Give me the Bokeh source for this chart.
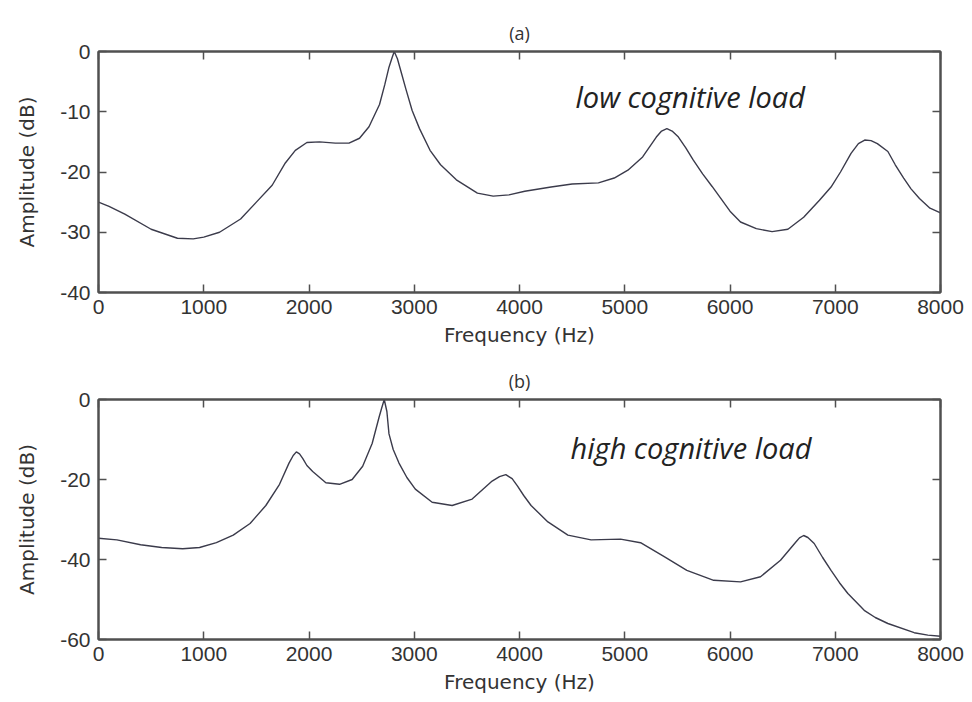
from bokeh.plotting import figure
from bokeh.models import Range1d, LinearAxis, FixedTicker, Label
from bokeh.layouts import column
from bokeh.embed import file_html
from bokeh.resources import INLINE

# ---- data ----
freq_a = [0, 100, 250, 500, 750, 900, 1000, 1150, 1350, 1500, 1650, 1775, 1870, 1980,
          2100, 2250, 2380, 2480, 2570, 2670, 2720, 2760, 2790, 2810, 2840, 2880, 2920,
          2980, 3050, 3150, 3250, 3400, 3600, 3750, 3900, 4050, 4300, 4500, 4750, 4900,
          5030, 5170, 5300, 5350, 5400, 5450, 5510, 5580, 5650, 5740, 5830, 6000, 6100,
          6250, 6400, 6550, 6700, 6850, 6960, 7050, 7150, 7220, 7280, 7340, 7400, 7500,
          7570, 7650, 7720, 7800, 7900, 8000]
amp_a = [-25, -25.7, -27, -29.5, -31, -31.1, -30.8, -30, -27.8, -25, -22.2, -18.5, -16.4, -15.1,
         -15.0, -15.2, -15.2, -14.4, -12.5, -8.8, -5.5, -2.6, -1.0, 0, -1.2, -3.7, -6.2,
         -9.8, -12.8, -16.4, -18.8, -21.3, -23.5, -24, -23.8, -23.2, -22.5, -22, -21.8, -21,
         -19.7, -17.5, -14.2, -13.2, -12.8, -13.2, -14.2, -16.0, -18, -20.3, -22.4, -26.5, -28.3,
         -29.4, -29.9, -29.5, -27.5, -24.7, -22.5, -20, -16.9, -15.3, -14.7, -14.8, -15.3, -16.6,
         -18.8, -21, -22.8, -24.4, -26, -26.8]

freq_b = [0, 175, 400, 600, 800, 960, 1120, 1280, 1440, 1590, 1720, 1810, 1850, 1880, 1910,
          1940, 1980, 2035, 2160, 2290, 2410, 2510, 2600, 2665, 2690, 2715, 2740, 2760, 2800,
          2855, 2930, 3010, 3170, 3360, 3550, 3740, 3810, 3870, 3930, 3980, 4040, 4110, 4270,
          4460, 4680, 4960, 5150, 5375, 5590, 5845, 6100, 6290, 6480, 6630, 6660, 6700, 6740,
          6800, 6880, 6960, 7040, 7120, 7275, 7380, 7500, 7750, 7880, 8000]
amp_b = [-34.7, -35.1, -36.3, -37, -37.3, -37, -35.8, -33.9, -31, -26.5, -21.2, -15.9, -14.0, -13.1, -13.6,
         -14.7, -16.5, -18, -20.8, -21.2, -20, -16.7, -11, -4.5, -2.2, 0, -3.0, -8.6, -12.5,
         -15.9, -19.5, -22.4, -25.7, -26.5, -24.9, -20.4, -19.3, -18.8, -19.8, -21.6, -24.0, -26.5, -30.6,
         -33.9, -35.1, -34.9, -35.8, -39.3, -42.7, -45.2, -45.6, -44.3, -40.2, -35.5, -34.6, -34, -34.5,
         -36, -39.5, -42.7, -45.8, -48.5, -52.7, -54.5, -56, -58.3, -58.9, -59.2]

x_ticks = [0, 1000, 2000, 3000, 4000, 5000, 6000, 7000, 8000]
y_ticks_a = [-40, -30, -20, -10, 0]
y_ticks_b = [-60, -40, -20, 0]
panel_titles = ["(a)", "(b)"]
notes = ["low cognitive load", "high cognitive load"]
x_label = "Frequency (Hz)"
y_label = "Amplitude (dB)"

FRAME = "#505050"
TEXT = "#333333"
LINE = "#3b3b4b"


def make_panel(freq, amp, y_min, y_ticks, height, b_top, b_bottom,
               title, note, note_x, note_y):
    p = figure(width=972, height=height, x_range=Range1d(0, 8000), y_range=Range1d(y_min, 0),
               output_backend="svg", toolbar_location=None,
               min_border_left=98, min_border_right=32,
               min_border_top=b_top, min_border_bottom=b_bottom,
               x_axis_label=x_label, y_axis_label=y_label, title=title)
    p.background_fill_color = "white"
    p.border_fill_color = "white"
    p.xgrid.visible = False
    p.ygrid.visible = False
    p.outline_line_color = FRAME
    p.outline_line_width = 2

    p.title.align = "center"
    p.title.text_font = "Open Sans"
    p.title.text_font_size = "18px"
    p.title.text_font_style = "normal"
    p.title.text_color = TEXT
    p.title.standoff = 14

    bottom = p.below[0]
    left = p.left[0]
    bottom.ticker = FixedTicker(ticks=x_ticks)
    left.ticker = FixedTicker(ticks=y_ticks)
    left.major_label_overrides = {t: str(t) for t in y_ticks}

    top = LinearAxis(ticker=FixedTicker(ticks=x_ticks),
                     major_label_overrides={t: "" for t in x_ticks})
    right = LinearAxis(ticker=FixedTicker(ticks=y_ticks),
                       major_label_overrides={t: "" for t in y_ticks})
    p.add_layout(top, "above")
    p.add_layout(right, "right")

    for ax in [bottom, left, top, right]:
        ax.axis_line_color = FRAME
        ax.axis_line_width = 2
        ax.major_tick_in = 8
        ax.major_tick_out = 0
        ax.major_tick_line_color = FRAME
        ax.major_tick_line_width = 1.5
        ax.minor_tick_line_color = None
        ax.major_label_text_font = "Liberation Sans"
        ax.major_label_text_font_size = "21px"
        ax.major_label_text_color = TEXT
    top.major_label_standoff = 0
    right.major_label_standoff = 0

    bottom.major_label_standoff = 7
    left.major_label_standoff = 8
    for ax in [bottom, left]:
        ax.axis_label_text_font = "DejaVu Sans"
        ax.axis_label_text_font_size = "20px"
        ax.axis_label_text_font_style = "normal"
        ax.axis_label_text_color = TEXT
    bottom.axis_label_standoff = 6
    left.axis_label_standoff = 18

    p.line(freq, amp, line_color=LINE, line_width=1.4)

    p.add_layout(Label(x=note_x, y=note_y, text=note, text_align="left",
                       text_baseline="alphabetic", text_font="Open Sans",
                       text_font_style="italic", text_font_size="29px",
                       text_color="#222222"))
    return p


p1 = make_panel(freq_a, amp_a, -40, y_ticks_a, 355, 51, 63,
                panel_titles[0], notes[0], 4532, -7.5)
p2 = make_panel(freq_b, amp_b, -60, y_ticks_b, 347, 44, 63,
                panel_titles[1], notes[1], 4485, -12)

layout = column(p1, p2, spacing=0)
open("out.html", "w").write(file_html(layout, INLINE))
